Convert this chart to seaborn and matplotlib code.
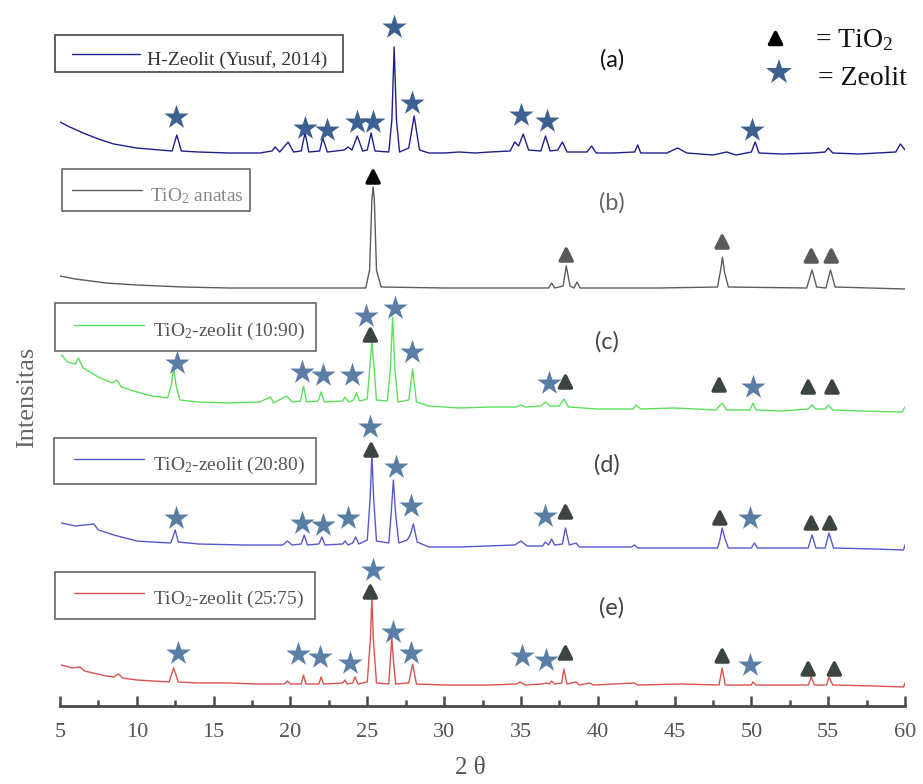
import matplotlib
matplotlib.use("Agg")
import matplotlib.pyplot as plt
import seaborn as sns
import pandas as pd
from matplotlib.markers import MarkerStyle
from matplotlib.patches import Rectangle
from matplotlib.lines import Line2D
from matplotlib.ticker import MultipleLocator

# ---------------- data (2-theta positions, intensities above each trace's floor) -------------
series_names = ["a", "b", "c", "d", "e"]
offsets = [550, 416, 294, 156, 18]

theta_a = [5.0, 5.5, 6.5, 7.5, 8.5, 10.0, 11.5, 12.3, 12.6, 12.9, 14.0, 16.0, 18.0, 18.8, 19.0,
           19.3, 19.85, 20.2, 20.7, 20.95, 21.2, 21.9, 22.1, 22.4, 23.5, 23.75, 24.0, 24.35, 24.7,
           25.0, 25.25, 25.5, 26.4, 26.6, 26.75, 26.9, 27.1, 27.7, 28.05, 28.4, 29.0, 30.0, 31.0,
           32.0, 33.0, 34.3, 34.6, 34.85, 35.15, 35.5, 36.3, 36.6, 36.9, 37.4, 37.7, 38.0, 39.3,
           39.6, 39.9, 41.0, 42.4, 42.6, 42.8, 44.5, 45.2, 45.8, 47.5, 48.4, 49.0, 50.0, 50.25,
           50.5, 52.0, 54.0, 54.8, 55.0, 55.3, 57.0, 59.4, 59.7, 60.0]
int_a = [34, 30, 23, 17, 12, 8, 6, 5, 21, 5, 4, 3, 3, 5, 9,
         4, 14, 4, 5, 23, 4, 5, 18, 4, 6, 9, 6, 20, 5,
         6, 23, 5, 4, 36, 109, 36, 4, 8, 40, 6, 3, 3, 4,
         3, 4, 5, 14, 10, 22, 6, 5, 20, 5, 6, 14, 4, 4,
         10, 3, 3, 4, 11, 3, 3, 8, 3, 1, 4, 1, 4, 14,
         3, 2, 3, 4, 8, 3, 2, 4, 12, 6]

theta_b = [5.0, 6.0, 8.0, 10.0, 13.0, 16.0, 20.0, 24.0, 24.9, 25.15, 25.3, 25.38, 25.46, 25.6,
           25.9, 30.0, 35.0, 36.8, 37.0, 37.2, 37.75, 37.95, 38.2, 38.45, 38.65, 38.85, 44.0,
           47.8, 48.0, 48.12, 48.25, 48.5, 53.6, 53.95, 54.25, 54.85, 55.15, 55.45, 60.0]
int_b = [14, 11, 7, 5, 3, 2, 2, 2, 2, 20, 90, 103, 90, 20,
         3, 2, 2, 2, 7, 2, 4, 24, 4, 2, 8, 2, 2,
         3, 20, 33, 18, 3, 2, 20, 3, 2, 20, 3, 1]

theta_c = [5.1, 5.5, 6.0, 6.2, 6.5, 7.5, 8.4, 8.7, 9.0, 10.0, 11.0, 12.0, 12.25, 12.4, 12.55,
           12.8, 14.0, 16.0, 18.0, 18.7, 18.9, 19.75, 20.1, 20.65, 20.85, 21.05, 21.8, 22.0, 22.2,
           23.4, 23.55, 23.8, 24.1, 24.3, 24.5, 25.0, 25.2, 25.3, 25.4, 25.6, 26.3, 26.5, 26.65,
           26.8, 27.0, 27.7, 27.95, 28.2, 29.0, 31.0, 33.0, 34.7, 34.95, 35.3, 36.3, 36.6, 36.9,
           37.5, 37.8, 38.1, 40.0, 42.3, 42.5, 42.8, 45.0, 47.7, 48.1, 48.4, 49.9, 50.1, 50.3,
           52.0, 53.7, 53.95, 54.2, 54.8, 55.0, 55.3, 57.0, 59.8, 60.0]
int_c = [57, 50, 48, 54, 44, 35, 29, 32, 25, 20, 16, 14, 27, 44, 27,
         12, 10, 9, 10, 15, 9, 16, 10, 11, 26, 10, 11, 20, 10,
         11, 15, 10, 12, 19, 11, 13, 52, 70, 52, 12, 11, 42, 95,
         42, 10, 12, 43, 10, 6, 4, 5, 5, 7, 5, 6, 10, 6,
         6, 13, 5, 3, 3, 7, 3, 4, 2, 9, 2, 2, 9, 2,
         1, 3, 7, 3, 3, 7, 2, 1, 0, 5]

theta_d = [5.1, 6.0, 7.2, 7.5, 8.5, 10.0, 11.0, 12.2, 12.35, 12.5, 12.7, 14.0, 17.0, 19.5, 19.8,
           20.1, 20.7, 20.9, 21.1, 21.85, 22.05, 22.25, 23.4, 23.55, 23.75, 24.05, 24.25, 24.45,
           25.0, 25.18, 25.3, 25.42, 25.6, 26.4, 26.55, 26.7, 26.85, 27.05, 27.6, 27.8, 28.0,
           28.25, 29.0, 31.0, 34.6, 35.0, 35.4, 36.4, 36.6, 36.8, 37.0, 37.2, 37.7, 37.9, 38.15,
           38.6, 38.8, 42.2, 42.4, 42.6, 47.8, 47.95, 48.1, 48.25, 48.5, 50.0, 50.2, 50.4, 53.7,
           53.95, 54.2, 54.8, 55.05, 55.35, 58.0, 59.9, 60.0]
int_d = [27, 24, 26, 20, 15, 9, 8, 7, 13, 20, 8, 6, 5, 5, 9,
         5, 6, 15, 5, 6, 13, 5, 6, 9, 5, 7, 13, 6,
         10, 50, 95, 50, 9, 7, 35, 70, 35, 7, 10, 15, 26,
         8, 3, 3, 5, 9, 4, 4, 8, 5, 11, 5, 6, 22, 5,
         7, 3, 3, 5, 2, 2, 10, 22, 13, 2, 2, 7, 2, 2,
         15, 2, 2, 17, 2, 1, 0, 5]

theta_e = [5.1, 5.8, 6.3, 6.6, 8.0, 8.5, 8.8, 9.1, 10.0, 12.1, 12.4, 12.7, 14.0, 16.0, 18.0,
           19.6, 19.8, 20.0, 20.7, 20.85, 21.0, 21.85, 22.0, 22.15, 23.4, 23.55, 23.7, 24.05,
           24.2, 24.4, 25.0, 25.2, 25.3, 25.4, 25.6, 26.4, 26.5, 26.6, 26.7, 26.85, 27.7, 27.95,
           28.2, 30.0, 33.0, 34.7, 34.95, 35.3, 36.4, 36.6, 36.85, 37.0, 37.2, 37.65, 37.8, 38.0,
           38.6, 38.8, 39.5, 39.7, 42.4, 42.6, 45.4, 47.9, 48.1, 48.3, 50.0, 50.1, 50.3, 53.7,
           53.9, 54.1, 54.9, 55.05, 55.3, 58.0, 59.9, 60.0]
int_e = [23, 20, 21, 17, 12, 11, 14, 10, 8, 6, 20, 6, 5, 5, 4,
         4, 7, 4, 4, 13, 4, 4, 11, 4, 5, 8, 4, 5,
         11, 4, 6, 48, 90, 48, 5, 4, 28, 50, 28, 4, 5, 24,
         4, 3, 3, 4, 6, 3, 4, 5, 4, 7, 4, 5, 19, 4,
         6, 3, 5, 3, 5, 3, 4, 3, 20, 3, 3, 6, 3, 3,
         11, 3, 3, 11, 3, 2, 1, 5]

# peak markers (star = zeolite, triangle = TiO2)
star_a_theta = [12.55, 20.95, 22.4, 24.3, 25.4, 26.75, 27.9, 35.0, 36.7, 50.05]
star_a_int = [39, 28, 26, 34, 34, 129, 53, 41, 35, 26]
tri_b_theta = [25.38, 37.95, 48.1, 53.9, 55.2]
tri_b_int = [113, 35, 48, 34, 34]
star_c_theta = [12.6, 20.75, 22.1, 24.0, 24.9, 26.8, 27.9, 36.8, 50.1]
star_c_int = [49, 40, 37, 37, 96, 104, 60, 29, 25]
tri_c_theta = [25.2, 37.9, 47.9, 53.7, 55.25]
tri_c_int = [77, 30, 27, 25, 25]
star_d_theta = [12.55, 20.75, 22.1, 23.75, 25.2, 26.9, 27.85, 36.6, 49.9]
star_d_int = [32, 27, 25, 32, 123, 83, 44, 34, 32]
tri_d_theta = [25.25, 37.9, 47.95, 53.9, 55.1]
tri_d_int = [100, 38, 32, 27, 27]
star_e_theta = [12.7, 20.5, 21.9, 23.9, 25.4, 26.7, 27.85, 35.1, 36.65, 49.9]
star_e_int = [35, 34, 31, 25, 118, 56, 35, 32, 28, 23]
tri_e_theta = [25.2, 37.9, 48.1, 53.7, 55.4]
tri_e_int = [96, 35, 32, 19, 19]

legend_labels = ["H-Zeolit (Yusuf, 2014)", "TiO$_2$ anatas", "TiO$_2$-zeolit (10:90)",
                 "TiO$_2$-zeolit (20:80)", "TiO$_2$-zeolit (25:75)"]
panel_labels = ["(a)", "(b)", "(c)", "(d)", "(e)"]
x_ticks = [5, 10, 15, 20, 25, 30, 35, 40, 45, 50, 55, 60]

# ---------------- style ----------------
sns.set_theme(style="white")
plt.rcParams["font.family"] = ["Liberation Serif", "DejaVu Serif"]
plt.rcParams["mathtext.fontset"] = "custom"
plt.rcParams["mathtext.rm"] = "Liberation Serif"
plt.rcParams["mathtext.it"] = "Liberation Serif:italic"

line_colors = {"a": "#1f1f8c", "b": "#5c5c5c", "c": "#5ce05c", "d": "#5858cc", "e": "#d9534f"}
star_colors = {"a": "#3c6090", "c": "#5a7ea6", "d": "#587ea3", "e": "#5a80a8"}
tri_colors = {"b": "#5a5a5a", "c": "#3c4440", "d": "#3c4440", "e": "#3c4440"}

W, H = 923, 784
fig = plt.figure(figsize=(W / 100, H / 100), dpi=100)
ax = fig.add_axes([60 / W, 78 / H, 845 / W, 706 / H])


def fx(px):
    return px / W


def fy(py):
    return 1 - py / H


thetas = [theta_a, theta_b, theta_c, theta_d, theta_e]
ints = [int_a, int_b, int_c, int_d, int_e]
frames = []
for name, th, it, off in zip(series_names, thetas, ints, offsets):
    frames.append(pd.DataFrame({"theta": th, "y": [v + off for v in it], "series": name}))
df = pd.concat(frames, ignore_index=True)

sns.lineplot(data=df, x="theta", y="y", hue="series", palette=line_colors,
             estimator=None, sort=False, legend=False, linewidth=1.0, ax=ax, zorder=2)

off = dict(zip(series_names, offsets))
stars = {"a": (star_a_theta, star_a_int), "c": (star_c_theta, star_c_int),
         "d": (star_d_theta, star_d_int), "e": (star_e_theta, star_e_int)}
tris = {"b": (tri_b_theta, tri_b_int), "c": (tri_c_theta, tri_c_int),
        "d": (tri_d_theta, tri_d_int), "e": (tri_e_theta, tri_e_int)}

for k, (th, it) in stars.items():
    sns.scatterplot(x=th, y=[v + off[k] for v in it], marker="*", s=340,
                    color=star_colors[k], linewidth=0, ax=ax, zorder=4)

tri_marker = MarkerStyle("^", joinstyle="round")
for k, (th, it) in tris.items():
    cols = [tri_colors[k]] * len(th)
    if k == "b":
        cols[0] = "#0a0a0a"
    ax.scatter(th, [v + off[k] for v in it], marker=tri_marker, s=75, c=cols,
               edgecolors=cols, linewidths=2.5, zorder=4)

# ---------------- axes ----------------
ax.set_xlim(5, 60)
ax.set_ylim(0, 706)
ax.set_yticks([])
for s in ["left", "top", "right"]:
    ax.spines[s].set_visible(False)
ax.spines["bottom"].set_color("#4a4a4a")
ax.spines["bottom"].set_linewidth(2)
ax.set_xticks(x_ticks)
ax.xaxis.set_minor_locator(MultipleLocator(2.5))
ax.tick_params(axis="x", which="major", direction="in", length=7.5, width=1.8,
               color="#4a4a4a", labelsize=16, labelcolor="#555555", pad=12, bottom=True)
ax.tick_params(axis="x", which="minor", direction="in", length=4.5, width=1.8,
               color="#4a4a4a", bottom=True)
ax.set_facecolor("white")

ax.set_xlabel("2 θ", fontsize=18, color="#555555")
ax.xaxis.set_label_coords((470 - 60) / 845, (706 - 757) / 706)
ax.set_ylabel("Intensitas", fontsize=19, color="#666666")
ax.yaxis.label.set(va="center", ha="center")
ax.yaxis.set_label_coords((27 - 60) / 845, (706 - 397) / 706)

# ---------------- legend boxes ----------------
boxes = [
    ((55, 35, 343, 72), (72, 140, 54), 147, "#333333", "#444444"),
    ((62, 169, 250, 211), (72, 142, 190), 150, "#888888", "#666666"),
    ((55, 303, 316, 351), (74, 144, 325), 153, "#555555", "#666666"),
    ((54, 438, 316, 484), (74, 144, 459), 153, "#555555", "#666666"),
    ((55, 572, 315, 619), (74, 144, 593), 153, "#555555", "#666666"),
]
for name, lab, (box, ln, tx, tcol, ecol) in zip(series_names, legend_labels, boxes):
    x0, y0, x1, y1 = box
    fig.patches.append(Rectangle((fx(x0), fy(y1)), (x1 - x0) / W, (y1 - y0) / H,
                                 transform=fig.transFigure, fill=False, edgecolor=ecol, lw=1.2))
    fig.lines.append(Line2D([fx(ln[0]), fx(ln[1])], [fy(ln[2]), fy(ln[2])],
                            transform=fig.transFigure, color=line_colors[name], lw=1.0))
    fig.text(fx(tx), fy(ln[2] + 11), lab, ha="left", va="baseline", fontsize=14, color=tcol)

# panel labels
label_pos = [(612, 60), (612, 203), (607, 342), (607, 465), (612, 608)]
label_cols = ["#111111", "#666666", "#444444", "#444444", "#444444"]
for lab, (px, py), c in zip(panel_labels, label_pos, label_cols):
    fig.text(fx(px), fy(py), lab, ha="center", va="center", fontsize=17, color=c,
             family=["Lato", "DejaVu Sans"])

# symbol key (top right)
fig.lines.append(Line2D([fx(775)], [fy(38)], transform=fig.transFigure, marker=tri_marker,
                        markersize=8, color="#000000", markeredgewidth=2.5, linestyle="none"))
fig.text(fx(815), fy(47), "= TiO$_2$", ha="left", va="baseline", fontsize=20, color="#111111")
fig.lines.append(Line2D([fx(779)], [fy(72)], transform=fig.transFigure, marker="*",
                        markersize=19, color="#3c6090", markeredgewidth=0, linestyle="none"))
fig.text(fx(818), fy(85), "= Zeolit", ha="left", va="baseline", fontsize=20, color="#111111")

fig.savefig("out.png", dpi=100)
